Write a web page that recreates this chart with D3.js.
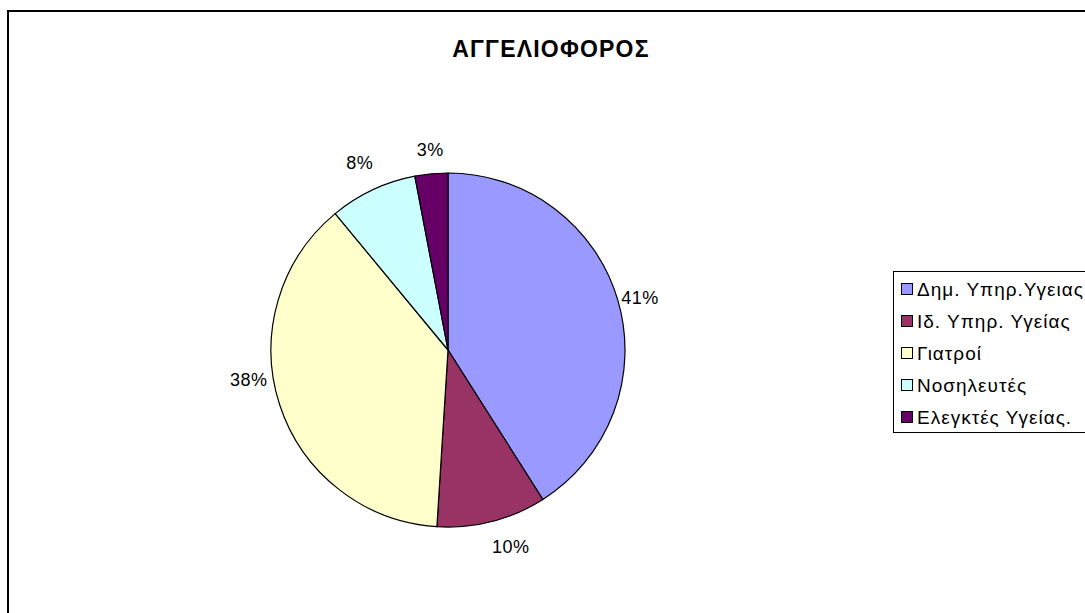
<!DOCTYPE html>
<html>
<head>
<meta charset="utf-8">
<script src="https://cdn.jsdelivr.net/npm/d3@7"></script>
<style>
  html, body { margin: 0; padding: 0; background: #fff; }
  svg { display: block; font-family: "Liberation Sans", Arial, sans-serif; }
</style>
</head>
<body>
<svg id="chart" width="1085" height="613"></svg>
<script>
// Distribution of recipients of "ΑΓΓΕΛΙΟΦΟΡΟΣ"
const chartTitle = "ΑΓΓΕΛΙΟΦΟΡΟΣ";
const categories = ["Δημ. Υπηρ.Υγειας", "Ιδ. Υπηρ. Υγείας", "Γιατροί", "Νοσηλευτές", "Ελεγκτές Υγείας."];
const shares = [41, 10, 38, 8, 3];
const colors = ["#9999FF", "#993366", "#FFFFCC", "#CCFFFF", "#660066"];
// small per-label nudges (px) so labels sit clear of neighbours
const labelNudge = [[0, 3], [13, 3], [-9, -32], [-3, -6], [1, -1]];

const svg = d3.select("#chart");

// outer chart frame (runs past the right and bottom edges)
svg.append("rect")
  .attr("x", 8).attr("y", 11)
  .attr("width", 1200).attr("height", 700)
  .attr("fill", "#fff").attr("stroke", "#000").attr("stroke-width", 2);

svg.append("text")
  .attr("x", 551).attr("y", 57)
  .attr("text-anchor", "middle")
  .attr("font-size", 23).attr("font-weight", "bold")
  .attr("letter-spacing", 1.2)
  .text(chartTitle);

const cx = 448, cy = 350, r = 177;
const pie = d3.pie().sort(null).value(d => d)(shares);
const arc = d3.arc().innerRadius(0).outerRadius(r);
const labelArc = d3.arc().innerRadius(200).outerRadius(200);

const g = svg.append("g").attr("transform", `translate(${cx},${cy})`);
g.selectAll("path").data(pie).join("path")
  .attr("d", arc)
  .attr("fill", (d, i) => colors[i])
  .attr("stroke", "#000").attr("stroke-width", 1.2);

g.selectAll("text").data(pie).join("text")
  .attr("transform", (d, i) => {
    const [x, y] = labelArc.centroid(d);
    return `translate(${x + labelNudge[i][0]},${y + labelNudge[i][1]})`;
  })
  .attr("text-anchor", "middle")
  .attr("dy", "0.35em")
  .attr("font-size", 18)
  .attr("letter-spacing", 0.5)
  .text(d => d.data + "%");

// legend
const lg = svg.append("g");
lg.append("rect")
  .attr("x", 893.5).attr("y", 271.5)
  .attr("width", 250).attr("height", 161)
  .attr("fill", "#fff").attr("stroke", "#000").attr("stroke-width", 1);

const rowY = d3.scalePoint().domain(categories).range([289, 417]);
const rows = lg.selectAll("g.row").data(categories).join("g")
  .attr("class", "row")
  .attr("transform", d => `translate(0,${rowY(d)})`);
rows.append("rect")
  .attr("x", 901.5).attr("y", -5.5)
  .attr("width", 11).attr("height", 11)
  .attr("fill", (d, i) => colors[i])
  .attr("stroke", "#000").attr("stroke-width", 1);
rows.append("text")
  .attr("x", 917).attr("dy", "0.36em")
  .attr("font-size", 19)
  .attr("letter-spacing", 1)
  .text(d => d);
</script>
</body>
</html>
